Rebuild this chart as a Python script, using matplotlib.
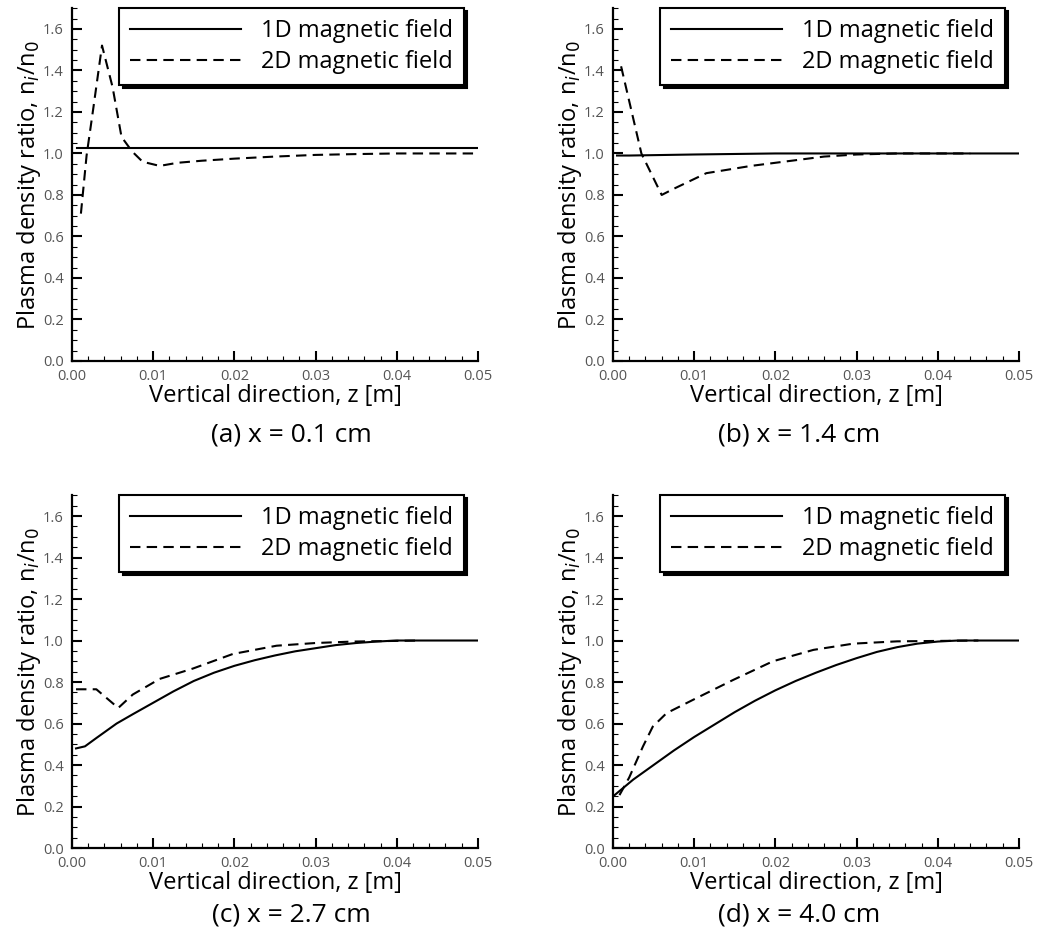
import numpy as np
import matplotlib.pyplot as plt
from matplotlib.ticker import MultipleLocator, FormatStrFormatter

plt.rcParams['font.family'] = ['Open Sans', 'DejaVu Sans']

captions = ["(a) x = 0.1 cm", "(b) x = 1.4 cm", "(c) x = 2.7 cm", "(d) x = 4.0 cm"]

# 1D magnetic field curves
z1_a = [0.0006, 0.05]
n1_a = [1.025, 1.025]
z1_b = [0.0005, 0.002, 0.01, 0.02, 0.05]
n1_b = [0.99, 0.99, 0.995, 1.0, 1.0]
z1_c = [0.0005, 0.0016, 0.003, 0.0055, 0.0075, 0.01, 0.0125, 0.015, 0.0175, 0.02, 0.0225,
        0.025, 0.0275, 0.03, 0.0325, 0.035, 0.0375, 0.04, 0.05]
n1_c = [0.48, 0.49, 0.53, 0.60, 0.645, 0.70, 0.755, 0.805, 0.845, 0.878, 0.905,
        0.928, 0.948, 0.963, 0.978, 0.988, 0.995, 1.0, 1.0]
z1_d = [0.0002, 0.0025, 0.005, 0.0075, 0.01, 0.0125, 0.015, 0.0175, 0.02, 0.0225,
        0.025, 0.0275, 0.03, 0.0325, 0.035, 0.0375, 0.04, 0.0425, 0.05]
n1_d = [0.255, 0.33, 0.40, 0.47, 0.535, 0.595, 0.655, 0.71, 0.76, 0.805,
        0.845, 0.882, 0.915, 0.945, 0.968, 0.985, 0.995, 1.0, 1.0]

# 2D magnetic field curves
z2_a = [0.0011, 0.0018, 0.0026, 0.0037, 0.005, 0.0061, 0.0074, 0.0087, 0.0108, 0.013, 0.016,
        0.02, 0.025, 0.03, 0.035, 0.04, 0.045, 0.05]
n2_a = [0.71, 0.99, 1.21, 1.52, 1.32, 1.08, 1.01, 0.96, 0.94, 0.955, 0.965, 0.975, 0.985,
        0.993, 0.997, 1.0, 1.0, 1.0]
z2_b = [0.001, 0.0035, 0.006, 0.0075, 0.0115, 0.017, 0.022, 0.026, 0.030, 0.035, 0.044]
n2_b = [1.42, 1.0, 0.80, 0.83, 0.905, 0.94, 0.965, 0.985, 0.995, 1.0, 1.0]
z2_c = [0.0005, 0.003, 0.0057, 0.0075, 0.0108, 0.0149, 0.0198, 0.0252, 0.030, 0.0346, 0.043]
n2_c = [0.765, 0.765, 0.675, 0.74, 0.815, 0.865, 0.935, 0.975, 0.988, 0.995, 1.0]
z2_d = [0.0008, 0.002, 0.0037, 0.0049, 0.0066, 0.0099, 0.0148, 0.0197, 0.0247, 0.0296, 0.035, 0.045]
n2_d = [0.255, 0.34, 0.49, 0.585, 0.65, 0.715, 0.81, 0.90, 0.955, 0.985, 0.996, 1.0]

panels = [(z1_a, n1_a, z2_a, n2_a), (z1_b, n1_b, z2_b, n2_b),
          (z1_c, n1_c, z2_c, n2_c), (z1_d, n1_d, z2_d, n2_d)]

fig = plt.figure(figsize=(10.37, 9.32), dpi=100)

lefts = [0.0694, 0.5911, 0.0694, 0.5911]
bottoms = [0.6127, 0.6127, 0.0901, 0.0901]
cap_x = [0.281, 0.771, 0.281, 0.771]
cap_y = [0.533, 0.533, 0.018, 0.018]

for i, (za, na, zb, nb) in enumerate(panels):
    ax = fig.add_axes([lefts[i], bottoms[i], 0.3915, 0.3785])
    ax.plot(za, na, color='black', lw=1.5, label='1D magnetic field')
    ax.plot(zb, nb, color='black', lw=1.5, linestyle=(0, (5, 3)), label='2D magnetic field')
    ax.set_xlim(0, 0.05)
    ax.set_ylim(0, 1.7)
    ax.spines['top'].set_visible(False)
    ax.spines['right'].set_visible(False)
    for s in ['left', 'bottom']:
        ax.spines[s].set_linewidth(1.6)
    ax.xaxis.set_major_locator(MultipleLocator(0.01))
    ax.xaxis.set_minor_locator(MultipleLocator(0.002))
    ax.yaxis.set_major_locator(MultipleLocator(0.2))
    ax.yaxis.set_minor_locator(MultipleLocator(0.05))
    ax.xaxis.set_major_formatter(FormatStrFormatter('%.2f'))
    ax.yaxis.set_major_formatter(FormatStrFormatter('%.1f'))
    ax.tick_params(which='major', direction='in', length=7, width=1.5,
                   labelsize=10.5, labelcolor='#555555')
    ax.tick_params(axis='x', which='major', pad=6)
    ax.tick_params(axis='y', which='major', pad=6)
    ax.tick_params(which='minor', direction='in', length=3.5, width=0.8)
    ax.set_xlabel('Vertical direction, z [m]', fontsize=17, labelpad=0)
    ax.set_ylabel('Plasma density ratio, n$_i$/n$_0$', fontsize=17, labelpad=0)
    leg = ax.legend(loc='upper right', bbox_to_anchor=(0.965, 1.0), fontsize=17,
                    handlelength=4.7, fancybox=False, borderpad=0.45,
                    labelspacing=0.3, handletextpad=0.85, borderaxespad=0,
                    shadow={'color': 'black', 'alpha': 1, 'ox': 2.2, 'oy': -2.2})
    leg.get_frame().set_edgecolor('black')
    leg.get_frame().set_linewidth(1.5)
    fig.text(cap_x[i], cap_y[i], captions[i], fontsize=19, ha='center', va='center')

fig.savefig('out.png', dpi=100)
